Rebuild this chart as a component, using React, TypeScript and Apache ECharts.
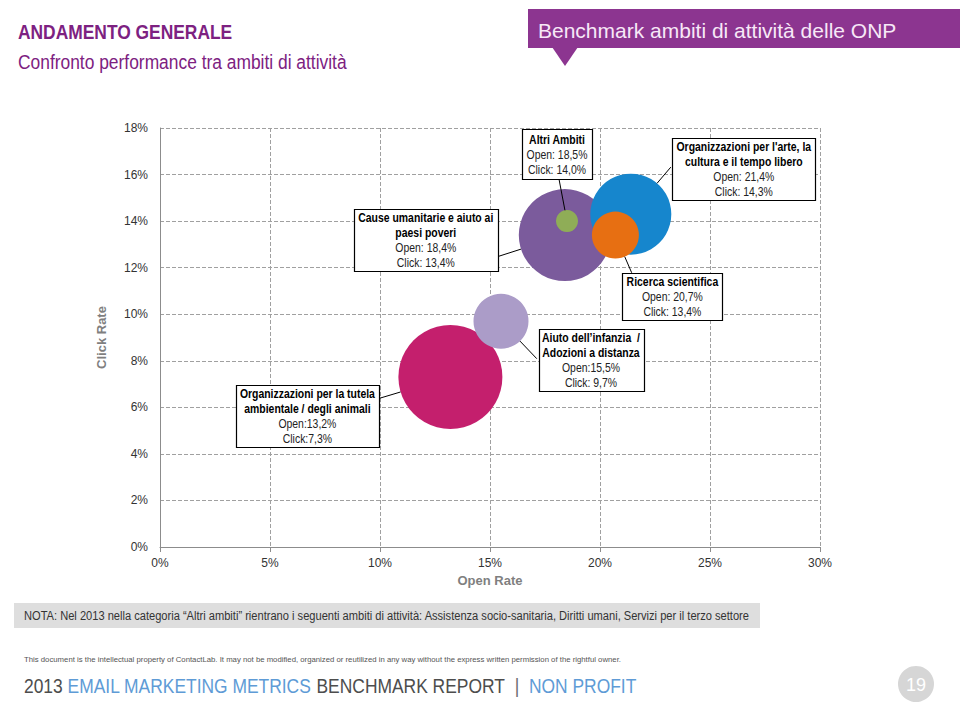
import React, { useEffect, useRef } from 'react';
import * as echarts from 'echarts';

// ---------- DATA ----------
const categories = [
  'Organizzazioni per la tutela ambientale / degli animali',
  'Aiuto dell’infanzia / Adozioni a distanza',
  'Cause umanitarie e aiuto ai paesi poveri',
  'Altri Ambiti',
  "Organizzazioni per l'arte, la cultura e il tempo libero",
  'Ricerca scientifica',
];
const openRate = [13.2, 15.5, 18.4, 18.5, 21.4, 20.7];
const clickRate = [7.3, 9.7, 13.4, 14.0, 14.3, 13.4];
const bubbleSize = [104, 55, 92, 22, 81, 47];
const labelTitles = [
  ['Organizzazioni per la tutela', 'ambientale / degli animali'],
  ['Aiuto dell’infanzia  /', 'Adozioni a distanza'],
  ['Cause umanitarie e aiuto ai', 'paesi poveri'],
  ['Altri Ambiti'],
  ["Organizzazioni per l'arte, la", 'cultura e il tempo libero'],
  ['Ricerca scientifica'],
];
const labelOpen = ['Open:13,2%', 'Open:15,5%', 'Open: 18,4%', 'Open: 18,5%', 'Open: 21,4%', 'Open: 20,7%'];
const labelClick = ['Click:7,3%', 'Click: 9,7%', 'Click: 13,4%', 'Click: 14,0%', 'Click: 14,3%', 'Click: 13,4%'];

// ---------- STYLE / LAYOUT ----------
const colors = ['#C41F6D', '#AB9CC8', '#7B5B9C', '#8FAD57', '#1686CD', '#E76F12'];
// box centre offset from bubble centre [dx, dy, w, h], leader anchor offset [ax, ay]
const boxLayout = [
  [-143, 39, 143, 62],
  [90, 39, 105, 62],
  [-139, 5, 144, 62],
  [-10, -67, 70, 50],
  [113, -45, 143, 62],
  [57, 61, 100, 47],
];
const anchorLayout = [
  [-74.5, 22.3],
  [35.8, 37.5],
  [-67, 21.5],
  [-8, -42],
  [40, -47],
  [16.3, 37.7],
];
const SANS = "'Liberation Sans', Arial, Helvetica, sans-serif";
const PURPLE = '#7D2181';

export default function App() {
  const ref = useRef<HTMLDivElement>(null);
  useEffect(() => {
    if (!ref.current) return;
    const chart = echarts.init(ref.current, null, { renderer: 'svg' });
    chart.setOption({
      animation: false,
      backgroundColor: '#ffffff',
      grid: { left: 160, right: 140, top: 128, bottom: 173, containLabel: false },
      xAxis: {
        type: 'value',
        min: 0,
        max: 30,
        interval: 5,
        name: 'Open Rate',
        nameLocation: 'middle',
        nameGap: 27,
        nameTextStyle: { fontFamily: SANS, fontSize: 13, fontWeight: 'bold', color: '#7f7f7f' },
        axisLine: { show: true, lineStyle: { color: '#8c8c8c', width: 1 } },
        axisTick: { show: true, length: 5, lineStyle: { color: '#8c8c8c' } },
        axisLabel: { formatter: '{value}%', fontFamily: SANS, fontSize: 12, color: '#333', margin: 10 },
        splitLine: { show: true, lineStyle: { type: [4, 2], color: '#a0a0a0', width: 1 } },
      },
      yAxis: {
        type: 'value',
        min: 0,
        max: 18,
        interval: 2,
        name: 'Click Rate',
        nameLocation: 'middle',
        nameGap: 52,
        nameTextStyle: { fontFamily: SANS, fontSize: 13, fontWeight: 'bold', color: '#7f7f7f' },
        axisLine: { show: true, lineStyle: { color: '#8c8c8c', width: 1 } },
        axisTick: { show: false },
        axisLabel: { formatter: '{value}%', fontFamily: SANS, fontSize: 12, color: '#333', margin: 12 },
        splitLine: { show: true, lineStyle: { type: [4, 2], color: '#a0a0a0', width: 1 } },
      },
      series: [
        {
          type: 'scatter',
          symbol: 'circle',
          symbolSize: (val: number[]) => val[2],
          data: categories.map((name, i) => ({
            name,
            value: [openRate[i], clickRate[i], bubbleSize[i]],
            itemStyle: { color: colors[i], opacity: 1 },
          })),
          z: 3,
        },
      ],
    });

    const vm = { textVerticalAlign: 'middle', verticalAlign: 'middle' };
    const graphics: any[] = [];
    // header
    graphics.push({
      type: 'text', x: 18, y: 32, scaleX: 0.87,
      style: { text: 'ANDAMENTO GENERALE', font: `bold 20px ${SANS}`, fill: PURPLE, ...vm },
    });
    graphics.push({
      type: 'text', x: 18, y: 62, scaleX: 0.87,
      style: { text: 'Confronto performance tra ambiti di attività', font: `20px ${SANS}`, fill: PURPLE, ...vm },
    });
    graphics.push({ type: 'rect', shape: { x: 528, y: 9, width: 432, height: 39 }, style: { fill: '#8C3590' } });
    graphics.push({ type: 'polygon', shape: { points: [[552, 47], [578, 47], [565, 66]] }, style: { fill: '#8C3590' } });
    graphics.push({
      type: 'text', x: 538, y: 30,
      style: { text: 'Benchmark ambiti di attività delle ONP', font: `21px ${SANS}`, fill: '#F7E8F7', ...vm },
    });

    // annotations
    categories.forEach((_, i) => {
      const p = chart.convertToPixel({ xAxisIndex: 0, yAxisIndex: 0 }, [openRate[i], clickRate[i]]) as number[];
      const [dx, dy, w, h] = boxLayout[i];
      const [ax, ay] = anchorLayout[i];
      const r = bubbleSize[i] / 2;
      const len = Math.sqrt(ax * ax + ay * ay);
      const ex = p[0] + (ax / len) * r;
      const ey = p[1] + (ay / len) * r;
      graphics.push({
        type: 'line', z: 10,
        shape: { x1: p[0] + ax, y1: p[1] + ay, x2: ex, y2: ey },
        style: { stroke: '#000', lineWidth: 1 },
      });
      const cx = p[0] + dx;
      const cy = p[1] + dy;
      graphics.push({
        type: 'rect', z: 11,
        shape: { x: Math.round(cx - w / 2) + 0.5, y: Math.round(cy - h / 2) + 0.5, width: w, height: h },
        style: { fill: '#fff', stroke: '#000', lineWidth: 1.2 },
      });
      const lines = labelTitles[i].map((t) => `{b|${t}}`).concat([`{n|${labelOpen[i]}}`, `{n|${labelClick[i]}}`]);
      graphics.push({
        type: 'text', z: 12, x: cx, y: cy + 0.5, scaleX: 0.87,
        style: {
          text: lines.join('\n'),
          textAlign: 'center', align: 'center',
          ...vm,
          fill: '#000',
          rich: {
            b: { fontFamily: SANS, fontSize: 12, fontWeight: 'bold', lineHeight: 15, fill: '#000', align: 'center' },
            n: { fontFamily: SANS, fontSize: 12, lineHeight: 15, fill: '#222', align: 'center' },
          },
        },
      });
    });

    // note
    graphics.push({ type: 'rect', shape: { x: 14, y: 603, width: 746, height: 25 }, style: { fill: '#DEDEDE' } });
    graphics.push({
      type: 'text', x: 24, y: 616, scaleX: 0.926,
      style: {
        text: 'NOTA: Nel 2013 nella categoria “Altri ambiti” rientrano i seguenti ambiti di attività: Assistenza socio-sanitaria, Diritti umani, Servizi per il terzo settore',
        font: `12px ${SANS}`, fill: '#333', ...vm,
      },
    });
    graphics.push({
      type: 'text', x: 24, y: 659, scaleX: 0.97,
      style: {
        text: 'This document is the intellectual property of ContactLab. It may not be modified, organized or reutilized in any way without the express written permission of the rightful owner.',
        font: `8px ${SANS}`, fill: '#555', ...vm,
      },
    });
    graphics.push({
      type: 'text', x: 24, y: 686, scaleX: 0.83,
      style: {
        text: '{g|2013 }{b|EMAIL MARKETING METRICS }{g|BENCHMARK REPORT  }{s||}{g|  }{b|NON PROFIT}',
        ...vm,
        rich: {
          g: { fontFamily: SANS, fontSize: 21, fill: '#4d4d4d' },
          b: { fontFamily: SANS, fontSize: 21, fill: '#5E9BD6' },
          s: { fontFamily: SANS, fontSize: 21, fill: '#6d6d6d' },
        },
      },
    });
    graphics.push({ type: 'circle', shape: { cx: 916, cy: 684, r: 18 }, style: { fill: '#D6D6D6' } });
    graphics.push({
      type: 'text', x: 916, y: 685,
      style: { text: '19', font: `18px ${SANS}`, fill: '#fff', textAlign: 'center', align: 'center', ...vm },
    });

    chart.setOption({ graphic: graphics });
    return () => chart.dispose();
  }, []);

  return (
    <div
      ref={ref}
      style={{ position: 'absolute', left: 0, top: 0, width: 960, height: 720 }}
    />
  );
}
